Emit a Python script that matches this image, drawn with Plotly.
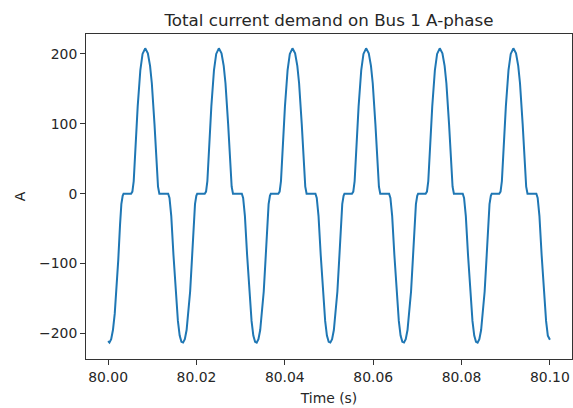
import plotly.graph_objects as go

# Time samples (s), one block per 60 Hz cycle
time_s = [
    80.00000,
    80.00030, 80.00070, 80.00110, 80.00150, 80.00190, 80.00230, 80.00270, 80.00300, 80.00330, 80.00350,
    80.00520, 80.00550, 80.00580, 80.00620, 80.00670, 80.00730, 80.00780, 80.00840, 80.00900, 80.00950,
    80.00990, 80.01050, 80.01100, 80.01130, 80.01160, 80.01360, 80.01390, 80.01430, 80.01480, 80.01530,
    80.01580, 80.01620, 80.01660,
    80.01697, 80.01737, 80.01777, 80.01817, 80.01857, 80.01897, 80.01937, 80.01967, 80.01997, 80.02017,
    80.02187, 80.02217, 80.02247, 80.02287, 80.02337, 80.02397, 80.02447, 80.02507, 80.02567, 80.02617,
    80.02657, 80.02717, 80.02767, 80.02797, 80.02827, 80.03027, 80.03057, 80.03097, 80.03147, 80.03197,
    80.03247, 80.03287, 80.03327,
    80.03363, 80.03403, 80.03443, 80.03483, 80.03523, 80.03563, 80.03603, 80.03633, 80.03663, 80.03683,
    80.03853, 80.03883, 80.03913, 80.03953, 80.04003, 80.04063, 80.04113, 80.04173, 80.04233, 80.04283,
    80.04323, 80.04383, 80.04433, 80.04463, 80.04493, 80.04693, 80.04723, 80.04763, 80.04813, 80.04863,
    80.04913, 80.04953, 80.04993,
    80.05030, 80.05070, 80.05110, 80.05150, 80.05190, 80.05230, 80.05270, 80.05300, 80.05330, 80.05350,
    80.05520, 80.05550, 80.05580, 80.05620, 80.05670, 80.05730, 80.05780, 80.05840, 80.05900, 80.05950,
    80.05990, 80.06050, 80.06100, 80.06130, 80.06160, 80.06360, 80.06390, 80.06430, 80.06480, 80.06530,
    80.06580, 80.06620, 80.06660,
    80.06697, 80.06737, 80.06777, 80.06817, 80.06857, 80.06897, 80.06937, 80.06967, 80.06997, 80.07017,
    80.07187, 80.07217, 80.07247, 80.07287, 80.07337, 80.07397, 80.07447, 80.07507, 80.07567, 80.07617,
    80.07657, 80.07717, 80.07767, 80.07797, 80.07827, 80.08027, 80.08057, 80.08097, 80.08147, 80.08197,
    80.08247, 80.08287, 80.08327,
    80.08363, 80.08403, 80.08443, 80.08483, 80.08523, 80.08563, 80.08603, 80.08633, 80.08663, 80.08683,
    80.08853, 80.08883, 80.08913, 80.08953, 80.09003, 80.09063, 80.09113, 80.09173, 80.09233, 80.09283,
    80.09323, 80.09383, 80.09433, 80.09463, 80.09493, 80.09693, 80.09723, 80.09763, 80.09813, 80.09863,
    80.09913, 80.09953,
    80.10000,
]

# Current (A), matching time_s
current_a = [
    -211,
    -213, -208, -195, -172, -140, -95, -45, -15, -3, 0,
    0, 3, 18, 68, 125, 177, 200, 208, 201, 183,
    158, 100, 40, 10, 0, 0, -6, -32, -88, -140,
    -182, -203, -212,
    -213, -208, -195, -172, -140, -95, -45, -15, -3, 0,
    0, 3, 18, 68, 125, 177, 200, 208, 201, 183,
    158, 100, 40, 10, 0, 0, -6, -32, -88, -140,
    -182, -203, -212,
    -213, -208, -195, -172, -140, -95, -45, -15, -3, 0,
    0, 3, 18, 68, 125, 177, 200, 208, 201, 183,
    158, 100, 40, 10, 0, 0, -6, -32, -88, -140,
    -182, -203, -212,
    -213, -208, -195, -172, -140, -95, -45, -15, -3, 0,
    0, 3, 18, 68, 125, 177, 200, 208, 201, 183,
    158, 100, 40, 10, 0, 0, -6, -32, -88, -140,
    -182, -203, -212,
    -213, -208, -195, -172, -140, -95, -45, -15, -3, 0,
    0, 3, 18, 68, 125, 177, 200, 208, 201, 183,
    158, 100, 40, 10, 0, 0, -6, -32, -88, -140,
    -182, -203, -212,
    -213, -208, -195, -172, -140, -95, -45, -15, -3, 0,
    0, 3, 18, 68, 125, 177, 200, 208, 201, 183,
    158, 100, 40, 10, 0, 0, -6, -32, -88, -140,
    -182, -203,
    -209,
]

x_tick_values = [80.00, 80.02, 80.04, 80.06, 80.08, 80.10]
x_tick_labels = ["80.00", "80.02", "80.04", "80.06", "80.08", "80.10"]
y_tick_values = [-200, -100, 0, 100, 200]
y_tick_labels = ["\u2212200", "\u2212100", "0", "100", "200"]

chart_title = "Total current demand on Bus 1 A-phase"
x_title = "Time (s)"
y_title = "A"

FONT = "DejaVu Sans"
AXIS_COLOR = "#333333"
TEXT_COLOR = "#262626"

fig = go.Figure(
    go.Scatter(
        x=time_s,
        y=current_a,
        mode="lines",
        line=dict(color="#1f77b4", width=2),
        hoverinfo="x+y",
    )
)

axis_common = dict(
    showgrid=False,
    zeroline=False,
    showline=True,
    linecolor=AXIS_COLOR,
    linewidth=1,
    mirror=True,
    ticks="outside",
    ticklen=5,
    tickwidth=1,
    tickcolor=AXIS_COLOR,
    tickfont=dict(family=FONT, size=13.9, color=TEXT_COLOR),
)

fig.update_layout(
    width=573,
    height=408,
    autosize=False,
    margin=dict(l=86, r=1, t=34, b=48.5, pad=0),
    paper_bgcolor="white",
    plot_bgcolor="white",
    showlegend=False,
    font=dict(family=FONT, size=13.9, color=TEXT_COLOR),
    title=dict(
        text=chart_title,
        font=dict(family=FONT, size=16.7, color=TEXT_COLOR),
        x=0.5,
        xref="paper",
        xanchor="center",
        y=1 - 20 / 408,
        yref="container",
        yanchor="middle",
    ),
    xaxis=dict(
        range=[79.995, 80.105],
        tickvals=x_tick_values,
        ticktext=x_tick_labels,
        title=dict(text=x_title, font=dict(family=FONT, size=13.9, color=TEXT_COLOR), standoff=9),
        **axis_common,
    ),
    yaxis=dict(
        range=[-236.5, 228.5],
        tickvals=y_tick_values,
        ticktext=y_tick_labels,
        title=dict(text=y_title, font=dict(family=FONT, size=13.9, color=TEXT_COLOR), standoff=10),
        **axis_common,
    ),
)

fig.write_html(
    "out.html",
    config={"displayModeBar": False},
    post_script="document.body.style.margin='0';document.body.style.padding='0';",
)
